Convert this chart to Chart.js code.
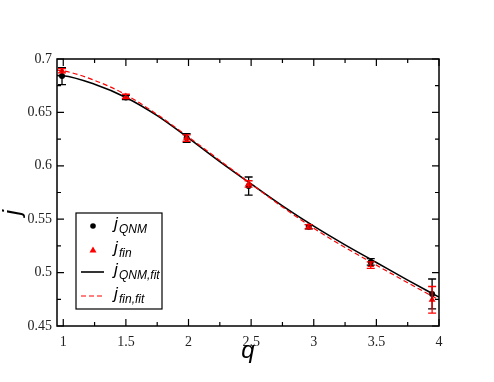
<!DOCTYPE html>
<html>
<head>
<meta charset="utf-8">
<script src="https://cdn.jsdelivr.net/npm/chart.js@4.4.0/dist/chart.umd.min.js"></script>
<style>
  html, body { margin: 0; padding: 0; background: #fff; }
  #wrap { width: 494px; height: 382px; }
</style>
</head>
<body>
<div id="wrap"><canvas id="myChart" width="494" height="382"></canvas></div>
<script>
// data
const qData = [0.99, 1.50, 1.985, 2.48, 2.96, 3.455, 3.945];
const jQNM = [0.684, 0.664, 0.626, 0.581, 0.543, 0.510, 0.480];
const jQNMErr = [0.008, 0.002, 0.004, 0.0085, 0.002, 0.003, 0.014];
const jFin = [0.689, 0.665, 0.626, 0.583, 0.543, 0.507, 0.4745];
const jFinErr = [0.002, 0.002, 0.003, 0.003, 0.002, 0.003, 0.0125];

const qFit = [0.95, 1, 1.25, 1.5, 1.75, 2, 2.25, 2.5, 2.75, 3, 3.25, 3.5, 3.75, 4];
const jQNMFit = [0.6845, 0.6843, 0.6763, 0.664, 0.647, 0.626, 0.604, 0.583, 0.5625, 0.5435, 0.526, 0.5095, 0.493, 0.477];
const jFinFit = [0.6895, 0.689, 0.680, 0.6665, 0.648, 0.627, 0.605, 0.583, 0.5615, 0.5415, 0.5235, 0.507, 0.4905, 0.4745];

const xTicks = [1, 1.5, 2, 2.5, 3, 3.5, 4];
const yTicks = [0.45, 0.5, 0.55, 0.6, 0.65, 0.7];

const pts = (xs, ys) => xs.map((x, i) => ({ x: x, y: ys[i] }));

// error bars
const errorBars = {
  id: 'errorBars',
  afterDatasetsDraw(chart) {
    const ctx = chart.ctx;
    const xs = chart.scales.x, ys = chart.scales.y;
    const draw = (vals, errs, color) => {
      ctx.save();
      ctx.strokeStyle = color;
      ctx.lineWidth = 1.3;
      qData.forEach((q, i) => {
        const px = xs.getPixelForValue(q);
        const top = ys.getPixelForValue(vals[i] + errs[i]);
        const bot = ys.getPixelForValue(vals[i] - errs[i]);
        ctx.beginPath();
        ctx.moveTo(px, top); ctx.lineTo(px, bot);
        ctx.moveTo(px - 4, top); ctx.lineTo(px + 4, top);
        ctx.moveTo(px - 4, bot); ctx.lineTo(px + 4, bot);
        ctx.stroke();
      });
      ctx.restore();
    };
    draw(jQNM, jQNMErr, '#000');
    draw(jFin, jFinErr, '#ff0000');
  }
};

// frame with inward ticks on all sides, axis titles and legend
const frame = {
  id: 'frame',
  afterDraw(chart) {
    const ctx = chart.ctx;
    const a = chart.chartArea;
    const xs = chart.scales.x, ys = chart.scales.y;
    ctx.save();
    ctx.strokeStyle = '#000';
    ctx.lineWidth = 1.5;
    ctx.strokeRect(a.left, a.top, a.right - a.left, a.bottom - a.top);
    ctx.lineWidth = 1.2;
    ctx.beginPath();
    for (let k = 0; k <= 12; k++) {
      const v = 1 + k * 0.25;
      const px = xs.getPixelForValue(v);
      const len = k % 2 === 0 ? 7 : 4;
      ctx.moveTo(px, a.bottom); ctx.lineTo(px, a.bottom - len);
      ctx.moveTo(px, a.top); ctx.lineTo(px, a.top + len);
    }
    for (let k = 0; k <= 10; k++) {
      const v = 0.45 + k * 0.025;
      const py = ys.getPixelForValue(v);
      const len = k % 2 === 0 ? 7 : 4;
      ctx.moveTo(a.left, py); ctx.lineTo(a.left + len, py);
      ctx.moveTo(a.right, py); ctx.lineTo(a.right - len, py);
    }
    ctx.stroke();

    // axis titles
    ctx.fillStyle = '#000';
    ctx.font = 'italic 24px "Liberation Sans"';
    ctx.textAlign = 'center';
    ctx.textBaseline = 'middle';
    ctx.fillText('q', (a.left + a.right) / 2, 351);
    ctx.save();
    ctx.translate(13, (a.top + a.bottom) / 2 + 20);
    ctx.rotate(-Math.PI / 2);
    ctx.fillText('j', 0, 0);
    ctx.restore();

    // legend
    const bx = 76, by = 213, bw = 86, bh = 96;
    ctx.lineWidth = 1.2;
    ctx.strokeStyle = '#000';
    ctx.strokeRect(bx, by, bw, bh);
    const rows = [
      { y: 226, sub: 'QNM', kind: 'dot' },
      { y: 250, sub: 'fin', kind: 'tri' },
      { y: 272, sub: 'QNM,fit', kind: 'line' },
      { y: 296, sub: 'fin,fit', kind: 'dash' }
    ];
    rows.forEach(r => {
      ctx.save();
      if (r.kind === 'dot') {
        ctx.fillStyle = '#000';
        ctx.beginPath(); ctx.arc(93, r.y, 2.8, 0, Math.PI * 2); ctx.fill();
      } else if (r.kind === 'tri') {
        ctx.fillStyle = '#ff0000';
        ctx.beginPath();
        ctx.moveTo(93, r.y - 3.5); ctx.lineTo(96.5, r.y + 2.5); ctx.lineTo(89.5, r.y + 2.5);
        ctx.closePath(); ctx.fill();
      } else {
        ctx.strokeStyle = r.kind === 'line' ? '#000' : '#ff0000';
        ctx.lineWidth = r.kind === 'line' ? 1.6 : 1.2;
        if (r.kind === 'dash') ctx.setLineDash([5, 3]);
        ctx.beginPath(); ctx.moveTo(81, r.y); ctx.lineTo(104, r.y); ctx.stroke();
      }
      ctx.restore();
      ctx.fillStyle = '#000';
      ctx.textAlign = 'left';
      ctx.textBaseline = 'alphabetic';
      ctx.font = 'italic 17px "Liberation Sans"';
      ctx.fillText('j', 114, r.y + 3);
      ctx.font = 'italic 12px "Liberation Sans"';
      ctx.fillText(r.sub, 119, r.y + 7);
    });
    ctx.restore();
  }
};

const config = {
  type: 'scatter',
  data: {
    datasets: [
      {
        label: 'jQNM,fit',
        data: pts(qFit, jQNMFit),
        showLine: true,
        borderColor: '#000',
        borderWidth: 1.6,
        pointRadius: 0,
        cubicInterpolationMode: 'monotone',
        order: 2
      },
      {
        label: 'jfin,fit',
        data: pts(qFit, jFinFit),
        showLine: true,
        borderColor: '#ff0000',
        borderWidth: 1.2,
        borderDash: [5, 3],
        pointRadius: 0,
        cubicInterpolationMode: 'monotone',
        order: 1
      },
      {
        label: 'jQNM',
        data: pts(qData, jQNM),
        backgroundColor: '#000',
        borderColor: '#000',
        pointStyle: 'circle',
        pointRadius: 3,
        borderWidth: 0,
        order: 0
      },
      {
        label: 'jfin',
        data: pts(qData, jFin),
        backgroundColor: '#ff0000',
        borderColor: '#ff0000',
        pointStyle: 'triangle',
        pointRadius: 4,
        borderWidth: 0,
        order: -1
      }
    ]
  },
  options: {
    responsive: false,
    animation: false,
    layout: { padding: { left: 0, right: 55, top: 59, bottom: 0 } },
    plugins: { legend: { display: false }, tooltip: { enabled: false } },
    scales: {
      x: {
        type: 'linear',
        min: 0.95,
        max: 4,
        afterBuildTicks: s => { s.ticks = xTicks.map(v => ({ value: v })); },
        afterFit: s => { s.height = 56; },
        grid: { display: false, drawTicks: false },
        border: { display: false },
        ticks: {
          padding: 8,
          color: '#222',
          font: { family: '"Liberation Serif"', size: 14 },
          callback: v => String(v)
        }
      },
      y: {
        type: 'linear',
        min: 0.45,
        max: 0.7,
        afterBuildTicks: s => { s.ticks = yTicks.map(v => ({ value: v })); },
        afterFit: s => { s.width = 57; },
        grid: { display: false, drawTicks: false },
        border: { display: false },
        ticks: {
          padding: 5,
          color: '#222',
          font: { family: '"Liberation Serif"', size: 14 },
          callback: v => String(+v.toFixed(2))
        }
      }
    }
  },
  plugins: [errorBars, frame]
};

const myChart = new Chart(document.getElementById('myChart'), config);
</script>
</body>
</html>
